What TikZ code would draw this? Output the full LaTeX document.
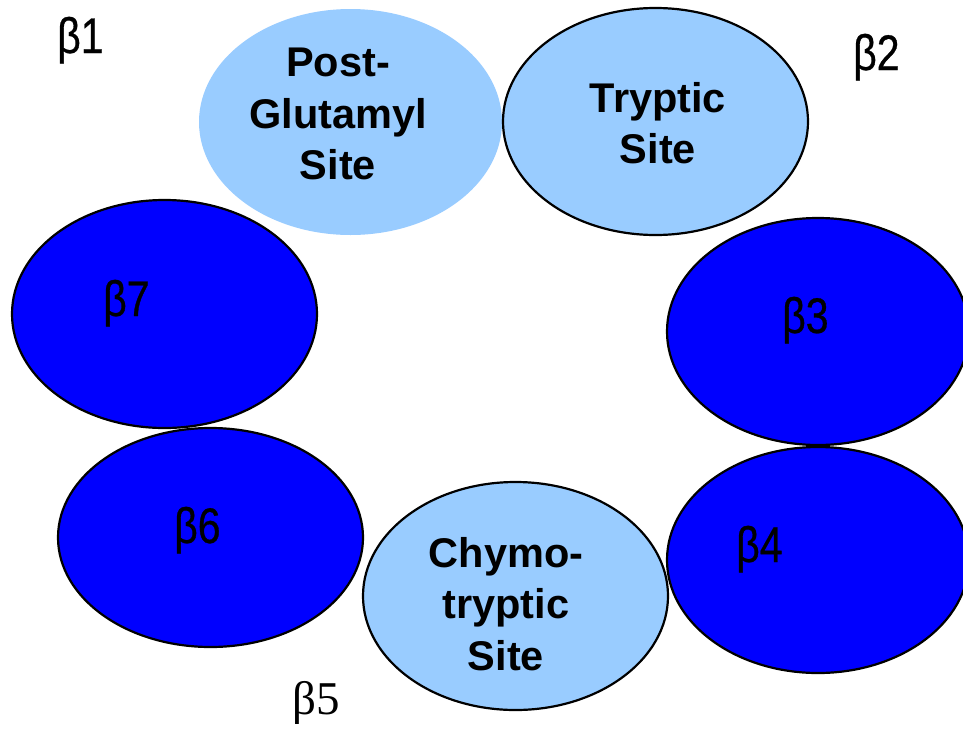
\documentclass[tikz,border=0pt]{standalone}
\usepackage{fontspec}
\setmainfont{Liberation Sans}
\newfontfamily\betafont[FakeStretch=0.82,FakeBold=0.6]{Liberation Sans}
\newfontfamily\betaserif{Liberation Serif}
\usetikzlibrary{shapes.geometric}
\definecolor{lightb}{HTML}{99CCFF}
\definecolor{darkb}{HTML}{0000FF}
\tikzset{
  blob/.style={ellipse, inner sep=0pt, minimum width=304pt, minimum height=226pt},
  sitebox/.style={blob, fill=lightb, draw=black, line width=2.2pt},
  nobox/.style={blob, fill=lightb},
  subunit/.style={blob, fill=darkb, draw=black, line width=2.2pt},
  sitetext/.style={align=center, inner sep=0pt, font=\fontsize{41.5}{51.5}\selectfont\bfseries},
  betalabel/.style={anchor=base west, inner sep=0pt, font=\fontsize{50}{60}\selectfont\betafont},
  betaserlabel/.style={anchor=base west, inner sep=0pt, font=\fontsize{47}{56}\selectfont\betaserif}
}
\begin{document}
\begin{tikzpicture}[x=1pt,y=-1pt]
\useasboundingbox (0,0) rectangle (963,731);
\fill[white] (0,0) rectangle (963,731);
% ellipses
\node[nobox, minimum width=303pt] (pg) at (350.5,122) {};
\node[sitebox, minimum width=305pt, minimum height=227pt] (tr) at (655.5,121.5) {};
\node[subunit, minimum width=305pt, minimum height=228pt] (b7) at (164.5,314) {};
\node[subunit, minimum width=302pt, minimum height=227pt] (b3) at (818,331.5) {};
\node[subunit, minimum width=305pt, minimum height=219pt] (b6) at (210.5,537.5) {};
\node[subunit, minimum width=302pt, minimum height=226pt] (b4) at (818,560) {};
\node[sitebox, minimum width=305pt, minimum height=228pt] (ch) at (515.5,596) {};
% site texts
\node[sitetext] (pgt) at (338,114) {Post-\\Glutamyl\\Site};
\node[sitetext] (trt) at (658,123) {Tryptic\\Site};
\node[sitetext] (cht) at (506,604) {Chymo-\\tryptic\\Site};
% beta labels
\node[betalabel] (l1) at (57,53) {β1};
\node[betalabel] (l2) at (853,70) {β2};
\node[betalabel] (l7) at (103,316) {β7};
\node[betalabel] (l3) at (782,333) {β3};
\node[betalabel] (l6) at (174,543) {β6};
\node[betalabel] (l4) at (736,562) {β4};
\node[betaserlabel] (l5) at (292,714) {β5};
\end{tikzpicture}
\end{document}
